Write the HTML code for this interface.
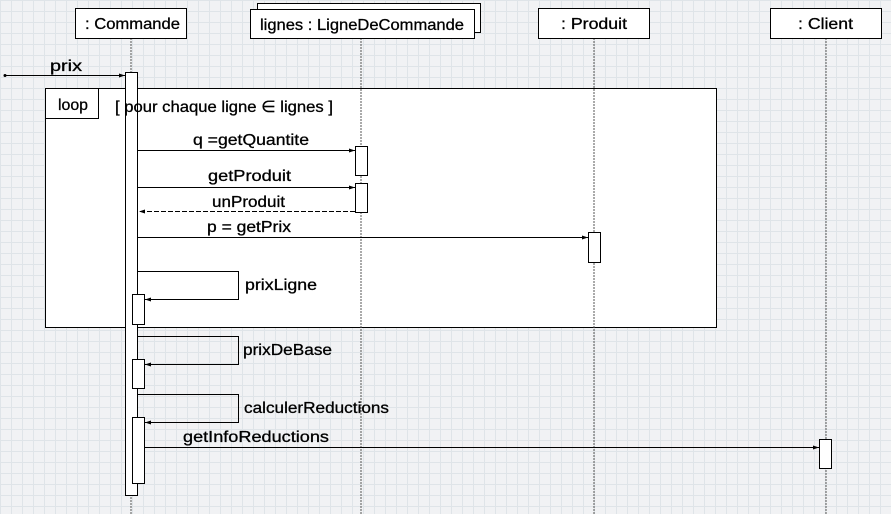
<!DOCTYPE html>
<html><head><meta charset="utf-8"><style>
html,body{margin:0;padding:0;}
body{width:891px;height:514px;overflow:hidden;background:#f1f2f4;
background-image:linear-gradient(#dfe4e8 1px,transparent 1px),linear-gradient(90deg,#dfe4e8 1px,transparent 1px);
background-size:11px 11px;}
svg{position:absolute;left:0;top:0;}
text{font-family:"Liberation Sans",sans-serif;font-size:16px;fill:#000;stroke:#000;stroke-width:0.3;}
</style></head><body>
<svg width="891" height="514" viewBox="0 0 891 514">
<defs><marker id="a" markerWidth="6" markerHeight="6" refX="6" refY="3" orient="auto"><path d="M0,1 L6,3 L0,5z" fill="#000"/></marker></defs>
<rect x="45.5" y="88.5" width="671" height="239" fill="#fff" stroke="#000"/>
<g stroke="#555" stroke-dasharray="2,1" stroke-width="1">
<line x1="131" y1="38" x2="131" y2="514"/>
<line x1="361" y1="38" x2="361" y2="514"/>
<line x1="594" y1="38" x2="594" y2="514"/>
<line x1="826" y1="38" x2="826" y2="514"/>
</g>
<rect x="45.5" y="88.5" width="53" height="30" fill="#fff" stroke="#000"/>
<text x="58" y="110" textLength="30" lengthAdjust="spacingAndGlyphs">loop</text>
<g fill="#fff" stroke="#000">
<rect x="75.5" y="8.5" width="111" height="30"/>
<rect x="257.5" y="3.5" width="223" height="29"/>
<rect x="250.5" y="9.5" width="224" height="29"/>
<rect x="538.5" y="8.5" width="111" height="30"/>
<rect x="770.5" y="8.5" width="111" height="30"/>
</g>
<text x="85" y="29" textLength="95" lengthAdjust="spacingAndGlyphs">: Commande</text>
<text x="260" y="30" textLength="204" lengthAdjust="spacingAndGlyphs">lignes : LigneDeCommande</text>
<text x="561" y="29" textLength="66" lengthAdjust="spacingAndGlyphs">: Produit</text>
<text x="798" y="29" textLength="55" lengthAdjust="spacingAndGlyphs">: Client</text>
<g fill="#fff" stroke="#000">
<rect x="125.5" y="72.5" width="12" height="423"/>
<rect x="355.5" y="146.5" width="12" height="29"/>
<rect x="355.5" y="183.5" width="12" height="29"/>
<rect x="588.5" y="232.5" width="12" height="30"/>
<rect x="132.5" y="294.5" width="12" height="30"/>
<rect x="132.5" y="359.5" width="12" height="29"/>
<rect x="132.5" y="417.5" width="12" height="66"/>
<rect x="819.5" y="439.5" width="12" height="29"/>
</g>
<text x="115" y="112" textLength="218" lengthAdjust="spacingAndGlyphs">[ pour chaque ligne ∈ lignes ]</text>
<g stroke="#000" fill="none" marker-end="url(#a)">
<line x1="5" y1="75.5" x2="125" y2="75.5"/>
<line x1="138" y1="150.5" x2="355" y2="150.5"/>
<line x1="138" y1="187.5" x2="355" y2="187.5"/>
<line x1="355" y1="211.5" x2="139" y2="211.5" stroke-dasharray="5,2"/>
<line x1="138" y1="237.5" x2="588" y2="237.5"/>
<polyline points="138,271.5 238.5,271.5 238.5,299.5 145,299.5"/>
<polyline points="138,336.5 238.5,336.5 238.5,364.5 145,364.5"/>
<polyline points="138,394.5 238.5,394.5 238.5,422.5 145,422.5"/>
<line x1="145" y1="447.5" x2="819" y2="447.5"/>
</g>
<circle cx="5" cy="75.5" r="1.5" fill="#000"/>
<text x="50" y="71" textLength="32" lengthAdjust="spacingAndGlyphs">prix</text>
<text x="193" y="145" textLength="116" lengthAdjust="spacingAndGlyphs">q =getQuantite</text>
<text x="208" y="181" textLength="83" lengthAdjust="spacingAndGlyphs">getProduit</text>
<text x="212" y="207" textLength="73" lengthAdjust="spacingAndGlyphs">unProduit</text>
<text x="207" y="232" textLength="84" lengthAdjust="spacingAndGlyphs">p = getPrix</text>
<text x="245" y="290" textLength="72" lengthAdjust="spacingAndGlyphs">prixLigne</text>
<text x="243" y="355" textLength="89" lengthAdjust="spacingAndGlyphs">prixDeBase</text>
<text x="244" y="413" textLength="145" lengthAdjust="spacingAndGlyphs">calculerReductions</text>
<text x="183" y="442" textLength="146" lengthAdjust="spacingAndGlyphs">getInfoReductions</text>
</svg>
</body></html>
